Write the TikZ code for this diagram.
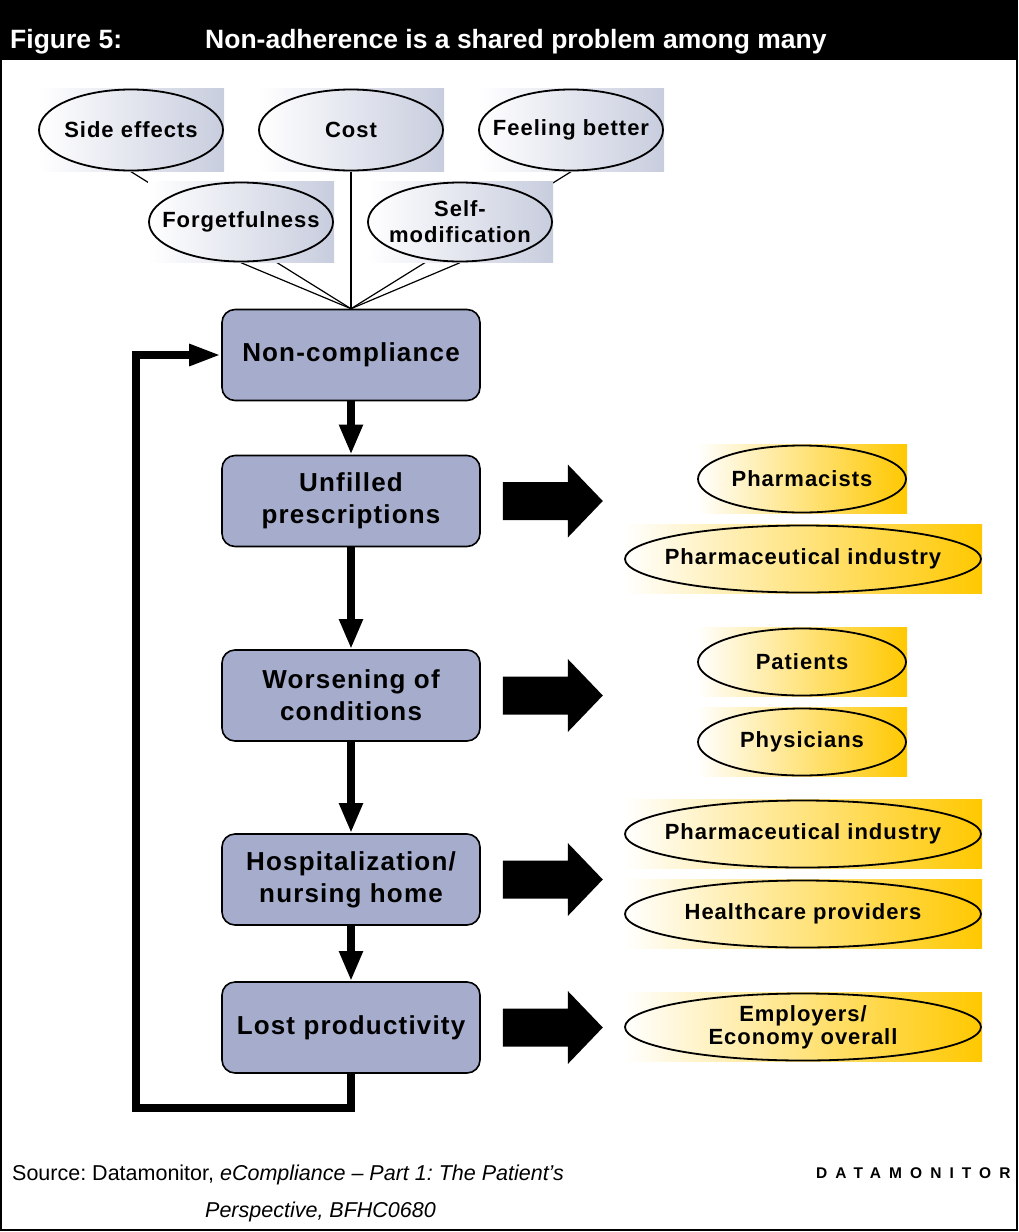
\documentclass[tikz,border=0pt]{standalone}
\usepackage{fontspec}
\setmainfont{Liberation Sans}
\newfontfamily\lblfont[LetterSpace=4.5]{Liberation Sans}
\newfontfamily\brandfont[LetterSpace=52.0]{Liberation Sans}
\usetikzlibrary{arrows.meta,calc,backgrounds}
\definecolor{boxblue}{RGB}{166,173,204}
\definecolor{ovalgray}{RGB}{200,205,222}
\definecolor{ovalgold}{RGB}{255,200,0}
\tikzset{
  oval/.style={rectangle, inner sep=0pt, align=center, left color=white,
    font=\lblfont\bfseries\fontsize{22}{26}\selectfont,
    path picture={\draw[line width=1.8pt] let \p1=(path picture bounding box.north east), \p2=(path picture bounding box.center) in (\p2) ellipse [x radius={abs(\x1-\x2)-1pt}, y radius={abs(\y1-\y2)-1pt}];}},
  causeoval/.style={oval, right color=ovalgray, minimum width=186pt, minimum height=83pt},
  effectoval/.style={oval, right color=ovalgold, minimum height=69pt},
  flowbox/.style={rectangle, rounded corners=13pt, draw, line width=1.6pt, fill=boxblue,
    minimum width=258pt, minimum height=91pt, align=center,
    font=\lblfont\bfseries\fontsize{26}{32}\selectfont},
  flow/.style={line width=8pt, -{Triangle[width=22pt,length=30pt]}},
  loopback/.style={line width=8pt, line join=miter, -{Triangle[width=20pt,length=32pt]}},
  spoke/.style={line width=1.2pt},
  titletext/.style={text=white, inner sep=0pt, font=\bfseries\fontsize{26.5}{30}\selectfont},
  srcnote/.style={inner sep=0pt, font=\frenchspacing\fontsize{21.5}{24}\selectfont}
}
\newcommand\impactarrow[1]{\fill ([xshift=22pt]#1.east) ++(0,-19) -- ++(65,0) -- ++(0,-17.5) -- ++(35,36.5) -- ++(-35,36.5) -- ++(0,-17.5) -- ++(-65,0) -- cycle;}
\begin{document}
\begin{tikzpicture}[x=1pt,y=1pt,yscale=-1]
\useasboundingbox (0,0) rectangle (1018,1232);
\fill (0,0) rectangle (1018,60);
\draw[line width=2pt] (1,60) -- (1,1230) -- (1017,1230) -- (1017,60);
\node[titletext, anchor=base west] (fignum) at (10,48) {Figure 5:};
\node[titletext, anchor=base west] (title) at (205,48) {Non-adherence is a shared problem among many};

\node[causeoval] (side) at (131,130) {Side effects};
\node[causeoval] (cost) at (351,130) {Cost};
\node[causeoval] (feel) at (571,130) {Feeling better};
\node[causeoval, minimum height=81pt] (forget) at (241,222) {Forgetfulness};
\node[causeoval, minimum height=81pt] (selfmod) at (460,222) {Self-\\modification};

\node[flowbox] (noncomp) at (351,355) {Non-compliance};
\node[flowbox] (unfilled) at (351,501) {Unfilled\\prescriptions};
\node[flowbox] (worsen) at (351,695.5) {Worsening of\\conditions};
\node[flowbox] (hosp) at (351,879.5) {Hospitalization/\\nursing home};
\node[flowbox] (lost) at (351,1027.5) {Lost productivity};

\begin{pgfonlayer}{background}
\foreach \src in {side,cost,feel,forget,selfmod}
  \draw[spoke] (\src.south) -- (noncomp.north);
\end{pgfonlayer}

\draw[flow] (noncomp.south) -- (unfilled.north);
\draw[flow] (unfilled.south) -- (worsen.north);
\draw[flow] (worsen.south) -- (hosp.north);
\draw[flow] (hosp.south) -- (lost.north);
\coordinate (loopcorner) at (136,1108);
\draw[loopback] (lost.south) |- (loopcorner) |- (noncomp.west);

\impactarrow{unfilled}
\impactarrow{worsen}
\impactarrow{hosp}
\impactarrow{lost}

\node[effectoval, minimum width=210pt] (pharmacists) at (802,479) {Pharmacists};
\node[effectoval, minimum width=358pt] (industry) at (803,559) {Pharmaceutical industry};
\node[effectoval, minimum width=210pt] (patients) at (802,662) {Patients};
\node[effectoval, minimum width=210pt] (physicians) at (802,742) {Physicians};
\node[effectoval, minimum width=358pt] (industryb) at (803,834) {Pharmaceutical industry};
\node[effectoval, minimum width=358pt] (providers) at (803,914) {Healthcare providers};
\node[effectoval, minimum width=358pt, font=\lblfont\bfseries\fontsize{22}{23}\selectfont] (employers) at (803,1027) {Employers/\\Economy overall};

\node[srcnote, anchor=base west] (source) at (12,1180) {Source: Datamonitor, \textit{eCompliance – Part 1: The Patient’s}};
\node[srcnote, anchor=base west] (sourceb) at (205,1217) {\textit{Perspective, BFHC0680}};
\node[anchor=base west, inner sep=0pt, font=\brandfont\bfseries\fontsize{15.5}{18}\selectfont] (brand) at (816,1178) {DATAMONITOR};
\end{tikzpicture}
\end{document}
